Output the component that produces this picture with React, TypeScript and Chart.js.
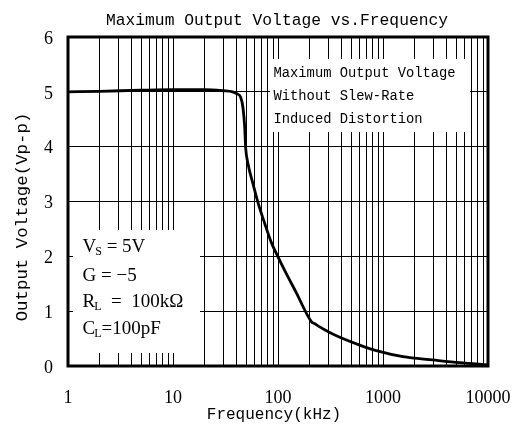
import React, { useEffect, useRef } from "react";
import { Chart, registerables } from "chart.js";

Chart.register(...registerables);

// ---- data ----
const freqKHz = [1, 2, 5, 10, 20, 30, 37, 40.2, 44.1, 46.4, 48.2, 49.2, 51.8, 57.8, 64.5, 74.7, 86.5, 100, 116, 150, 208, 224, 278, 360, 600, 865, 1550, 3000, 5400, 10000];
const outputVpp = [5.0, 5.01, 5.03, 5.04, 5.04, 5.02, 5.0, 4.97, 4.9, 4.71, 4.35, 3.98, 3.69, 3.32, 2.98, 2.6, 2.25, 1.99, 1.74, 1.33, 0.81, 0.77, 0.66, 0.55, 0.38, 0.28, 0.17, 0.11, 0.06, 0.02];

const decadeTicks = [1, 10, 100, 1000, 10000];
const minorMultipliers = [1, 2, 3, 4, 5, 6, 7, 8, 9];
const yTicks = [0, 1, 2, 3, 4, 5, 6];

const titleText = "Maximum Output Voltage vs.Frequency";
const xTitle = "Frequency(kHz)";
const yTitle = "Output Voltage(Vp-p)";
const noteLines = ["Maximum Output Voltage", "Without Slew-Rate", "Induced Distortion"];
const condLines: [string, string, string][] = [
  ["V", "S", " = 5V"],
  ["G = \u22125", "", ""],
  ["R", "L", "  =  100k\u03A9"],
  ["C", "L", "=100pF"],
];

const gridFreqs: number[] = [];
decadeTicks.slice(0, -1).forEach((d) => minorMultipliers.forEach((m) => gridFreqs.push(d * m)));
gridFreqs.push(decadeTicks[decadeTicks.length - 1]);

const MONO = "'Liberation Mono', 'DejaVu Sans Mono', monospace";
const SERIF = "'Liberation Serif', 'DejaVu Serif', serif";

const overlayPlugin = {
  id: "overlay",
  beforeDatasetsDraw(chart: any) {
    const ctx = chart.ctx as CanvasRenderingContext2D;
    ctx.save();
    ctx.fillStyle = "#ffffff";
    // annotation boxes hiding grid lines
    ctx.fillRect(270, 59, 200, 73);
    ctx.fillRect(73, 230, 127, 123);
    ctx.fillStyle = "#000000";
    // right note
    ctx.font = `13.8px ${MONO}`;
    ctx.textAlign = "left";
    ctx.textBaseline = "alphabetic";
    const noteBase = [76.7, 99.5, 122.5];
    noteLines.forEach((t, i) => ctx.fillText(t, 273.5, noteBase[i]));
    // left conditions
    const condBase = [251.5, 280.5, 306.5, 333.5];
    condLines.forEach(([main, sub, rest], i) => {
      let x = 82.5;
      const y = condBase[i];
      ctx.font = `19px ${SERIF}`;
      ctx.fillText(main, x, y);
      x += ctx.measureText(main).width;
      if (sub) {
        ctx.font = `12px ${SERIF}`;
        ctx.fillText(sub, x - 1, y + 3);
        x += ctx.measureText(sub).width - 1;
      }
      if (rest) {
        ctx.font = `19px ${SERIF}`;
        ctx.fillText(rest, x, y);
      }
    });
    ctx.restore();
  },
  afterDatasetsDraw(chart: any) {
    const ctx = chart.ctx as CanvasRenderingContext2D;
    const a = chart.chartArea;
    ctx.save();
    ctx.strokeStyle = "#000000";
    ctx.lineWidth = 3;
    ctx.strokeRect(a.left, a.top, a.right - a.left, a.bottom - a.top);
    ctx.fillStyle = "#000000";
    // title
    ctx.font = `16.3px ${MONO}`;
    ctx.textAlign = "center";
    ctx.textBaseline = "alphabetic";
    ctx.fillText(titleText, (a.left + a.right) / 2 - 1, 25);
    // x title
    ctx.font = `16px ${MONO}`;
    ctx.fillText(xTitle, 274, 419);
    // y title
    ctx.translate(22, 217);
    ctx.rotate(-Math.PI / 2);
    ctx.font = `17.4px ${MONO}`;
    ctx.textBaseline = "middle";
    ctx.fillText(yTitle, 0, 0);
    ctx.restore();
  },
};

export default function App() {
  const ref = useRef<HTMLCanvasElement | null>(null);
  useEffect(() => {
    if (!ref.current) return;
    const chart = new Chart(ref.current, {
      type: "line",
      data: {
        datasets: [
          {
            data: freqKHz.map((f, i) => ({ x: f, y: outputVpp[i] })),
            borderColor: "#000000",
            borderWidth: 2.8,
            pointRadius: 0,
            fill: false,
            cubicInterpolationMode: "monotone",
          },
        ],
      },
      options: {
        animation: false,
        responsive: false,
        devicePixelRatio: 1,
        layout: { padding: { top: 37, right: 30, bottom: 0, left: 0 } },
        plugins: { legend: { display: false }, tooltip: { enabled: false }, title: { display: false } },
        scales: {
          x: {
            type: "logarithmic",
            min: 1,
            max: 10000,
            afterBuildTicks: (scale: any) => {
              scale.ticks = gridFreqs.map((v) => ({ value: v }));
            },
            afterFit: (scale: any) => {
              scale.height = 68;
              scale.paddingLeft = 0;
              scale.paddingRight = 0;
            },
            grid: { color: "#000000", lineWidth: 1, drawTicks: false },
            border: { display: false },
            ticks: {
              autoSkip: false,
              maxRotation: 0,
              minRotation: 0,
              padding: 21,
              color: "#000000",
              font: { family: SERIF, size: 18 },
              callback: (v: any) => (decadeTicks.includes(Number(v)) ? String(v) : ""),
            },
          },
          y: {
            type: "linear",
            min: 0,
            max: 6,
            afterBuildTicks: (scale: any) => {
              scale.ticks = yTicks.map((v) => ({ value: v }));
            },
            afterFit: (scale: any) => {
              scale.width = 68;
              scale.paddingTop = 0;
              scale.paddingBottom = 0;
            },
            grid: { color: "#000000", lineWidth: 1, drawTicks: false },
            border: { display: false },
            ticks: {
              padding: 15,
              labelOffset: 2,
              color: "#000000",
              font: { family: SERIF, size: 18 },
              callback: (v: any) => String(v),
            },
          },
        },
      },
      plugins: [overlayPlugin],
    } as any);
    return () => chart.destroy();
  }, []);
  return (
    <div style={{ position: "absolute", left: 0, top: 0, width: 518, height: 434, background: "#fff" }}>
      <canvas ref={ref} width={518} height={434} style={{ display: "block" }} />
    </div>
  );
}
